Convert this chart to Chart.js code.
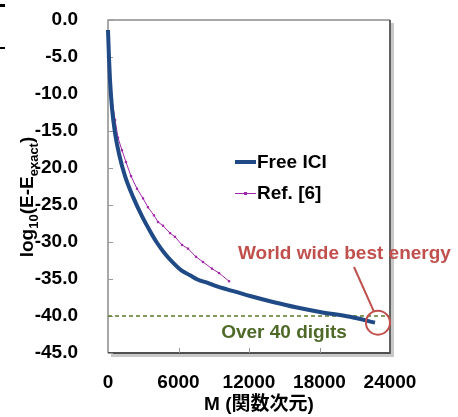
<!DOCTYPE html>
<html>
<head>
<meta charset="utf-8">
<script src="https://cdn.jsdelivr.net/npm/chart.js@4.4.1/dist/chart.umd.min.js"></script>
<style>
  html, body { margin: 0; padding: 0; background: #fff; }
  #wrap { width: 458px; height: 417px; position: relative; }
</style>
</head>
<body>
<div id="wrap"><canvas id="chart"></canvas></div>
<script>
// Free ICI: dimension M vs log10(E - Eexact)
const freeM   = [0, 85, 170, 340, 600, 940, 1450, 2130, 2890, 3570, 4170, 4850, 5530, 6210, 6980, 7660, 8430, 9280, 10130, 12090, 14040, 16090, 18040, 20600, 22720];
const freeVal = [-1.35, -5.1, -8.1, -11.9, -15.3, -18.1, -21.1, -23.9, -26.5, -28.5, -30.1, -31.6, -32.8, -33.8, -34.5, -35.1, -35.5, -36.0, -36.4, -37.3, -38.1, -38.85, -39.45, -40.1, -40.9];

// Ref. [6]
const refM   = [0, 170, 340, 600, 850, 1190, 1530, 1960, 2470, 2980, 3400, 3910, 4260, 4680, 5280, 5700, 6300, 6810, 7490, 8080, 8850, 9450, 10300];
const refVal = [-5.0, -8.1, -10.8, -13.5, -15.9, -17.6, -19.2, -21.1, -22.8, -24.1, -25.3, -26.4, -27.3, -27.8, -28.8, -29.3, -30.4, -30.9, -32.0, -32.7, -33.6, -34.2, -35.3];

const xTicks = [0, 6000, 12000, 18000, 24000];
const yTicks = [0, -5, -10, -15, -20, -25, -30, -35, -40, -45];
const digitsLine = -40;

const FONT = "'Liberation Sans', Arial, 'Noto Sans CJK JP', sans-serif";
const BLUE = '#1f4a85';
const PURPLE = '#a028a8';

const toPts = (xs, ys) => xs.map((x, i) => ({ x: x, y: ys[i] }));

const extras = {
  id: 'extras',
  beforeDatasetsDraw(chart) {
    const { ctx, chartArea: a, scales } = chart;
    const x = scales.x, y = scales.y;
    ctx.save();
    // plot frame (Excel style, shadow on right/bottom)
    ctx.fillStyle = '#c8c8c8';
    ctx.fillRect(a.right + 1, a.top + 3, 3, a.bottom - a.top);
    ctx.fillRect(a.left + 3, a.bottom + 1, a.right - a.left + 1, 3);
    ctx.strokeStyle = '#8c8c8c';
    ctx.lineWidth = 1.5;
    ctx.beginPath();
    ctx.moveTo(a.left, a.bottom);
    ctx.lineTo(a.left, a.top);
    ctx.lineTo(a.right, a.top);
    ctx.stroke();
    ctx.strokeStyle = '#505050';
    ctx.lineWidth = 1.8;
    ctx.beginPath();
    ctx.moveTo(a.right, a.top);
    ctx.lineTo(a.right, a.bottom);
    ctx.lineTo(a.left, a.bottom);
    ctx.stroke();
    // inward tick marks
    ctx.strokeStyle = '#9a9a9a';
    ctx.lineWidth = 1;
    ctx.beginPath();
    yTicks.forEach(v => {
      const py = Math.round(y.getPixelForValue(v)) + 0.5;
      ctx.moveTo(a.left, py);
      ctx.lineTo(a.left + 5, py);
    });
    xTicks.slice(1, -1).forEach(v => {
      const px = Math.round(x.getPixelForValue(v)) + 0.5;
      ctx.moveTo(px, a.bottom);
      ctx.lineTo(px, a.bottom - 5);
    });
    ctx.stroke();
    // 40 digits dashed line
    const dy = y.getPixelForValue(digitsLine);
    ctx.strokeStyle = '#5a7a2a';
    ctx.lineWidth = 1.3;
    ctx.setLineDash([4, 3]);
    ctx.beginPath();
    ctx.moveTo(a.left, dy);
    ctx.lineTo(a.right, dy);
    ctx.stroke();
    ctx.restore();
  },
  afterDraw(chart) {
    const { ctx, chartArea: a, scales } = chart;
    const x = scales.x, y = scales.y;
    ctx.save();
    // stray marks at left edge
    ctx.fillStyle = '#000';
    ctx.fillRect(0, 4, 5, 3);
    ctx.fillRect(0, 47, 5, 2);

    ctx.textBaseline = 'middle';
    ctx.textAlign = 'left';
    ctx.font = 'bold 19px ' + FONT;
    // legend
    ctx.strokeStyle = BLUE;
    ctx.lineWidth = 4;
    ctx.beginPath();
    ctx.moveTo(235, 162);
    ctx.lineTo(256, 162);
    ctx.stroke();
    ctx.strokeStyle = PURPLE;
    ctx.lineWidth = 1;
    ctx.beginPath();
    ctx.moveTo(235, 193.5);
    ctx.lineTo(256, 193.5);
    ctx.stroke();
    ctx.fillStyle = PURPLE;
    ctx.fillRect(244, 192, 3, 3);
    ctx.fillStyle = '#000';
    ctx.fillText('Free ICI', 257, 163);
    ctx.fillText('Ref. [6]', 257, 194);

    // world wide best energy annotation
    const ex = x.getPixelForValue(freeM[freeM.length - 1]);
    const ey = y.getPixelForValue(freeVal[freeVal.length - 1]);
    ctx.fillStyle = '#c0504d';
    ctx.fillText('World wide best energy', 238, 254);
    ctx.strokeStyle = '#c0504d';
    ctx.lineWidth = 2;
    ctx.beginPath();
    ctx.moveTo(354, 267);
    ctx.lineTo(ex - 1, ey - 11);
    ctx.stroke();
    ctx.beginPath();
    ctx.arc(ex + 3, ey, 12, 0, Math.PI * 2);
    ctx.stroke();

    // over 40 digits
    ctx.fillStyle = '#4f6a28';
    ctx.textAlign = 'center';
    ctx.fillText('Over 40 digits', 284, 333);

    // x title
    ctx.fillStyle = '#000';
    ctx.fillText('M (関数次元)', 259, 405);

    // y title with subscripts, rotated
    const parts = [
      ['log', 19, 0], ['10', 13, 5], ['(E-E', 19, 0], ['exact', 13, 5], [')', 19, 0]
    ];
    let total = 0;
    parts.forEach(p => {
      ctx.font = 'bold ' + p[1] + 'px ' + FONT;
      p.push(ctx.measureText(p[0]).width);
      total += p[3];
    });
    ctx.translate(33, 197);
    ctx.rotate(-Math.PI / 2);
    ctx.textAlign = 'left';
    ctx.textBaseline = 'alphabetic';
    let cx = -total / 2;
    parts.forEach(p => {
      ctx.font = 'bold ' + p[1] + 'px ' + FONT;
      ctx.fillText(p[0], cx, p[2]);
      cx += p[3];
    });
    ctx.restore();
  }
};

new Chart(document.getElementById('chart'), {
  type: 'line',
  data: {
    datasets: [
      {
        label: 'Free ICI',
        data: toPts(freeM, freeVal),
        borderColor: BLUE,
        borderWidth: 4,
        pointRadius: 0,
        cubicInterpolationMode: 'monotone',
        clip: false
      },
      {
        label: 'Ref. [6]',
        data: toPts(refM, refVal),
        borderColor: PURPLE,
        backgroundColor: PURPLE,
        borderWidth: 1,
        pointStyle: 'rect',
        pointRadius: 1.6,
        pointBorderWidth: 0,
        tension: 0,
        clip: false
      }
    ]
  },
  options: {
    responsive: true,
    maintainAspectRatio: false,
    animation: false,
    layout: { autoPadding: false, padding: { left: 0, right: 68, top: 20, bottom: 0 } },
    plugins: { legend: { display: false }, tooltip: { enabled: false } },
    scales: {
      x: {
        type: 'linear',
        min: 0,
        max: 24000,
        afterFit: s => { s.height = 64; s.paddingLeft = 0; s.paddingRight = 0; },
        afterBuildTicks: s => { s.ticks = xTicks.map(v => ({ value: v })); },
        grid: { display: false },
        border: { display: false },
        ticks: {
          padding: 10,
          maxRotation: 0,
          color: '#000',
          font: { family: FONT, size: 19, weight: 'bold' },
          callback: v => String(v)
        }
      },
      y: {
        type: 'linear',
        min: -45,
        max: 0,
        afterFit: s => { s.width = 108; s.paddingTop = 0; s.paddingBottom = 0; },
        afterBuildTicks: s => { s.ticks = yTicks.map(v => ({ value: v })); },
        grid: { display: false },
        border: { display: false },
        ticks: {
          padding: 22,
          color: '#000',
          font: { family: FONT, size: 19, weight: 'bold' },
          callback: v => v.toFixed(1)
        }
      }
    }
  },
  plugins: [extras]
});
</script>
</body>
</html>
